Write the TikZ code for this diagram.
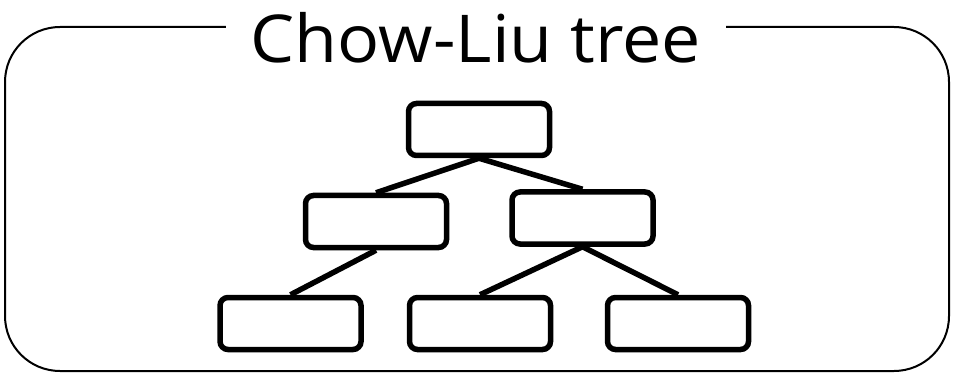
\documentclass[tikz,border=0pt]{standalone}
\usepackage{fontspec}
\setmainfont{Open Sans}
\newfontfamily\titlefont[FakeStretch=1.06]{Open Sans}
\begin{document}
\begin{tikzpicture}[x=1pt,y=-1pt,
  leaf/.style={draw=black, line width=5.5pt, rounded corners=8pt, fill=white,
               minimum width=141pt, minimum height=52pt, inner sep=0pt},
  link/.style={line width=5.5pt},
  frame/.style={line width=2pt, rounded corners=55pt}]
  \useasboundingbox (0,0) rectangle (955,374);
  % outer frame
  \draw[frame] (5,27) rectangle (949,371);
  % title sitting on the top border
  \node[fill=white, anchor=base, minimum width=500pt, inner sep=0pt,
        font=\titlefont\fontsize{66}{70}\selectfont] (title) at (476,62.5) {Chow-Liu tree};
  % tree nodes
  \node[leaf] (root) at (479,129.5) {};
  \node[leaf] (ml) at (376,221.5) {};
  \node[leaf] (mr) at (582.5,218) {};
  \node[leaf] (bl) at (290.5,323.5) {};
  \node[leaf] (bm) at (480,323.5) {};
  \node[leaf] (br) at (678,323.5) {};
  % edges
  \draw[link] (root.south) -- (ml.north);
  \draw[link] (root.south) -- (mr.north);
  \draw[link] (ml.south) -- (bl.north);
  \draw[link] (mr.south) -- (bm.north);
  \draw[link] (mr.south) -- (br.north);
\end{tikzpicture}
\end{document}
